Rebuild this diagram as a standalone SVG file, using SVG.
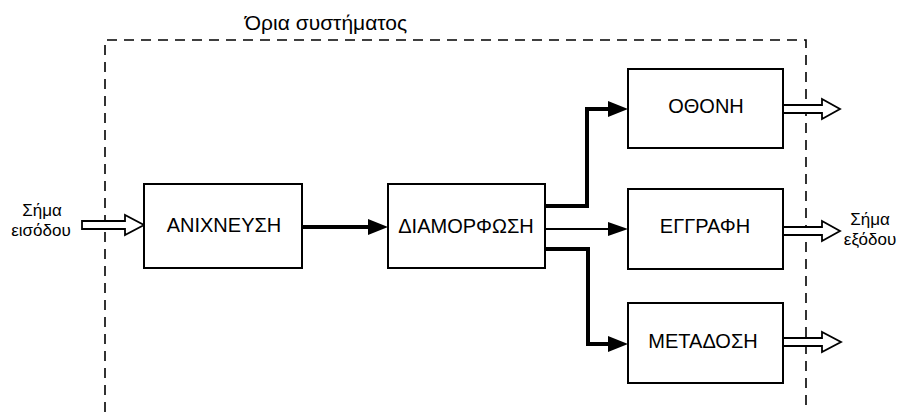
<svg xmlns="http://www.w3.org/2000/svg" width="904" height="412" viewBox="0 0 904 412">
<defs>
<style>
.box{fill:#fff;stroke:#000;stroke-width:2}
.t{font-family:"Liberation Sans",Arial,sans-serif;font-size:20px;fill:#000;text-anchor:middle}
.s{font-size:17px}
.thick{fill:none;stroke:#000;stroke-width:4}
.thin{fill:none;stroke:#000;stroke-width:1.8}
.hollow{fill:#fff;stroke:#000;stroke-width:1.8;stroke-linejoin:miter}
.dash{fill:none;stroke:#000;stroke-width:1.6;stroke-dasharray:10 7}
</style>
</defs>
<rect width="904" height="412" fill="#fff"/>
<g id="boundary">
<path class="dash" d="M105,412 L105,40 L806,40 L806,412"/>
<text class="t" x="326" y="30" style="font-size:21px">Όρια συστήματος</text>
</g>
<g id="connectors">
<path class="hollow" d="M82,221 L125,221 L125,215 L144,225 L125,235 L125,229 L82,229 Z"/>
<path class="thick" d="M302,227 L372,227"/>
<path d="M368,219 L388,227 L368,235 Z" fill="#000"/>
<path class="thick" d="M545,206 L587,206 L587,109 L612,109"/>
<path d="M608,101 L628,109 L608,117 Z" fill="#000"/>
<path class="thin" d="M545,229 L612,229"/>
<path d="M608,222 L628,229 L608,236 Z" fill="#000"/>
<path class="thick" d="M545,249 L588,249 L588,344 L612,344"/>
<path d="M608,336 L628,344 L608,352 Z" fill="#000"/>
<path class="hollow" d="M783,105 L822,105 L822,99 L840,109 L822,119 L822,113 L783,113 Z"/>
<path class="hollow" d="M783,227 L822,227 L822,221 L840,231 L822,241 L822,235 L783,235 Z"/>
<path class="hollow" d="M783,338 L822,338 L822,332 L841,342 L822,352 L822,346 L783,346 Z"/>
</g>
<g id="input">
<text class="t s" x="42" y="216">Σήμα</text>
<text class="t s" x="41" y="236">εισόδου</text>
</g>
<g id="output">
<text class="t s" x="870" y="225">Σήμα</text>
<text class="t s" x="870" y="245">εξόδου</text>
</g>
<g id="n1"><rect class="box" x="144" y="184" width="158" height="84"/><text class="t" x="224" y="232">ΑΝΙΧΝΕΥΣΗ</text></g>
<g id="n2"><rect class="box" x="388" y="184" width="157" height="84"/><text class="t" x="466" y="233">ΔΙΑΜΟΡΦΩΣΗ</text></g>
<g id="n3"><rect class="box" x="628" y="69" width="155" height="79"/><text class="t" x="706" y="113">ΟΘΟΝΗ</text></g>
<g id="n4"><rect class="box" x="628" y="189" width="155" height="80"/><text class="t" x="705" y="233">ΕΓΓΡΑΦΗ</text></g>
<g id="n5"><rect class="box" x="628" y="303" width="155" height="80"/><text class="t" x="703" y="348">ΜΕΤΑΔΟΣΗ</text></g>
</svg>
